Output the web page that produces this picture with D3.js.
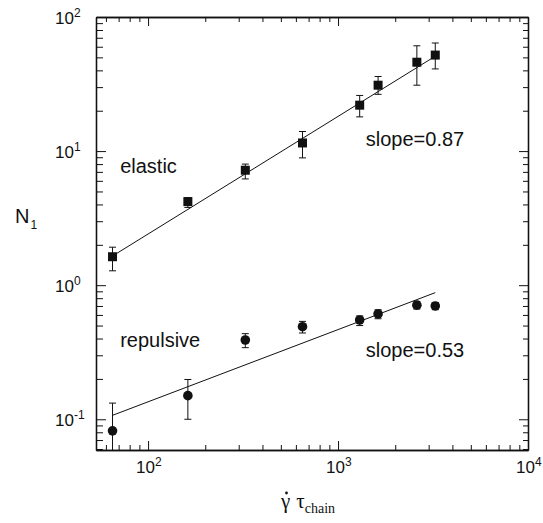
<!DOCTYPE html>
<html><head><meta charset="utf-8">
<script src="https://cdn.jsdelivr.net/npm/d3@7"></script>
<style>body{margin:0;background:#fff}svg{display:block}</style>
</head><body><svg id="c" width="543" height="523"></svg>
<script>
// ---- data ----
const shearRates = [65, 162, 325, 650, 1300, 1625, 2600, 3250];
const elasticN1 = [1.63, 4.2, 7.2, 11.5, 22, 31, 46, 52];
const elasticHi = [1.92, 4.5, 8.0, 14.0, 26, 36, 61, 64];
const elasticLo = [1.28, 3.8, 6.2, 8.9, 18, 26.5, 31, 41];
const repulsiveN1 = [0.082, 0.15, 0.39, 0.49, 0.55, 0.61, 0.71, 0.70];
const repulsiveHi = [0.132, 0.198, 0.435, 0.537, 0.59, 0.656, 0.757, 0.743];
const repulsiveLo = [0.03, 0.10, 0.342, 0.44, 0.50, 0.562, 0.664, 0.656];
const elasticFit = [[65, 1.65], [3250, 51]];
const repulsiveFit = [[65, 0.107], [3250, 0.88]];
const xMajorTicks = [100, 1000, 10000];
const xTickLabels = [["10", "2"], ["10", "3"], ["10", "4"]];
const xMinorTicks = [60, 70, 80, 90, 200, 300, 400, 500, 600, 700, 800, 900, 2000, 3000, 4000, 5000, 6000, 7000, 8000, 9000];
const yMajorTicks = [0.1, 1, 10, 100];
const yTickLabels = [["10", "-1"], ["10", "0"], ["10", "1"], ["10", "2"]];
const yMinorTicks = [0.06, 0.07, 0.08, 0.09, 0.2, 0.3, 0.4, 0.5, 0.6, 0.7, 0.8, 0.9, 2, 3, 4, 5, 6, 7, 8, 9, 20, 30, 40, 50, 60, 70, 80, 90];
const annotations = [
  {text: "elastic", x: 71.3, y: 6.87},
  {text: "slope=0.87", x: 1400, y: 11.0},
  {text: "repulsive", x: 71.3, y: 0.344},
  {text: "slope=0.53", x: 1400, y: 0.29}
];

// ---- layout ----
const L = 96, R = 528, T = 17, B = 450;
const svg = d3.select("#c");
const x = d3.scaleLog().domain([53.2, 10000]).range([L, R]);
const y = d3.scaleLog().domain([0.059, 100]).range([B, T]);
const ink = "#111";

svg.append("defs").append("clipPath").attr("id", "clip")
  .append("rect").attr("x", L).attr("y", T).attr("width", R - L).attr("height", B - T);

// axes: ticks inward on all four sides
function drawAxis(gen, scale, tx, ty, major, minor, majLen, minLen) {
  const g1 = svg.append("g").attr("transform", `translate(${tx},${ty})`)
    .call(gen(scale).tickValues(major).tickSize(-majLen).tickSizeOuter(0).tickFormat(""));
  const g2 = svg.append("g").attr("transform", `translate(${tx},${ty})`)
    .call(gen(scale).tickValues(minor).tickSize(-minLen).tickSizeOuter(0).tickFormat(""));
  [g1, g2].forEach(g => {
    g.select(".domain").attr("stroke", ink).attr("stroke-width", 1.3);
    g.selectAll(".tick line").attr("stroke", ink).attr("stroke-width", 1);
  });
}
drawAxis(d3.axisBottom, x, 0, B, xMajorTicks, xMinorTicks, 9, 5);
drawAxis(d3.axisTop, x, 0, T, xMajorTicks, xMinorTicks, 9, 5);
drawAxis(d3.axisLeft, y, L, 0, yMajorTicks, yMinorTicks, 10, 7);
drawAxis(d3.axisRight, y, R, 0, yMajorTicks, yMinorTicks, 9, 5);

// tick labels with superscripts
const lab = svg.append("g").attr("font-family", "Liberation Sans, Arial, sans-serif").attr("fill", ink);
xMajorTicks.forEach((v, i) => {
  const t = lab.append("text").attr("x", x(v) - 12).attr("y", 473).attr("font-size", 17);
  t.append("tspan").text(xTickLabels[i][0]);
  t.append("tspan").attr("font-size", 12).attr("dy", -7).text(xTickLabels[i][1]);
});
yMajorTicks.forEach((v, i) => {
  const t = lab.append("text").attr("x", 55).attr("y", y(v) + 7).attr("font-size", 17);
  t.append("tspan").text(yTickLabels[i][0]);
  t.append("tspan").attr("font-size", 12).attr("dy", -7).text(yTickLabels[i][1]);
});

// axis titles
const yt = svg.append("text").attr("x", 15).attr("y", 223).attr("font-family", "Liberation Sans, Arial, sans-serif")
  .attr("font-size", 20).attr("fill", ink);
yt.append("tspan").text("N");
yt.append("tspan").attr("font-size", 12).attr("dy", 6).attr("dx", 1).text("1");

const xt = svg.append("text").attr("x", 281).attr("y", 508).attr("font-family", "Liberation Serif, Times New Roman, serif")
  .attr("font-size", 21).attr("fill", ink);
xt.append("tspan").text("\u03B3");
xt.append("tspan").attr("dx", 6).text("\u03C4");
xt.append("tspan").attr("font-size", 14).attr("dy", 5).text("chain");
svg.append("circle").attr("cx", 286.5).attr("cy", 493).attr("r", 1.4).attr("fill", ink);

// data layer
const plot = svg.append("g").attr("clip-path", "url(#clip)");
const line = d3.line().x(d => x(d[0])).y(d => y(d[1]));
[elasticFit, repulsiveFit].forEach(f => {
  plot.append("path").attr("d", line(f)).attr("fill", "none").attr("stroke", ink).attr("stroke-width", 1);
});

function errorBars(vals, lo, hi) {
  shearRates.forEach((xv, i) => {
    const cx = x(xv);
    plot.append("line").attr("x1", cx).attr("x2", cx).attr("y1", y(lo[i])).attr("y2", y(hi[i]))
      .attr("stroke", ink).attr("stroke-width", 1);
    [lo[i], hi[i]].forEach(v => {
      plot.append("line").attr("x1", cx - 3.5).attr("x2", cx + 3.5).attr("y1", y(v)).attr("y2", y(v))
        .attr("stroke", ink).attr("stroke-width", 1);
    });
  });
}
errorBars(elasticN1, elasticLo, elasticHi);
errorBars(repulsiveN1, repulsiveLo, repulsiveHi);

plot.selectAll("rect.sq").data(shearRates).enter().append("rect")
  .attr("x", (d) => x(d) - 4.5).attr("y", (d, i) => y(elasticN1[i]) - 4.5)
  .attr("width", 9).attr("height", 9).attr("fill", ink);
plot.selectAll("circle.ci").data(shearRates).enter().append("circle")
  .attr("cx", d => x(d)).attr("cy", (d, i) => y(repulsiveN1[i])).attr("r", 4.8).attr("fill", ink);

// annotations
svg.append("g").selectAll("text").data(annotations).enter().append("text")
  .attr("x", d => x(d.x)).attr("y", d => y(d.y))
  .attr("font-family", "Liberation Sans, Arial, sans-serif").attr("font-size", 20).attr("fill", ink)
  .text(d => d.text);
</script></body></html>
